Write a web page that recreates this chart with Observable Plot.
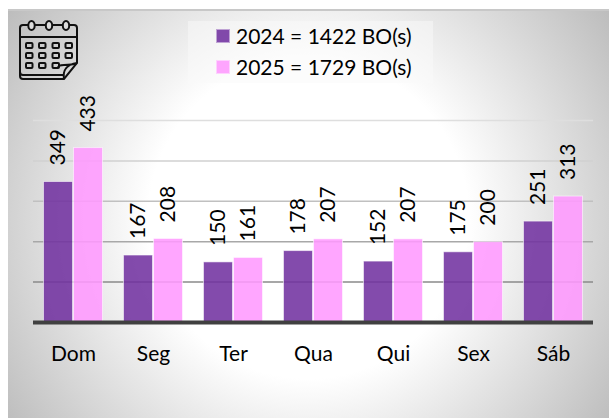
<!DOCTYPE html>
<html><head><meta charset="utf-8">
<script src="https://cdn.jsdelivr.net/npm/d3@7"></script>
<script src="https://cdn.jsdelivr.net/npm/@observablehq/plot@0.6"></script>
<style>
html,body{margin:0;padding:0;background:#fff;width:609px;height:418px;overflow:hidden}
#panel{position:absolute;left:8px;top:9px;width:601px;height:409px;box-sizing:border-box;border-top:2px solid #c8c8c8;
background:radial-gradient(circle 364px at 50% 51%,#fff 44%,#bdbdbd 100%)}
#chart{position:absolute;left:0;top:0}
#legend{position:absolute;left:188px;top:21px;width:245px;height:62px;background:rgba(250,250,250,.5);font:21px Lato,sans-serif;color:#000}
#legend div{position:absolute;left:28px;white-space:nowrap;display:flex;align-items:center;height:30px;line-height:30px}
#legend i{display:inline-block;width:14px;height:14px;margin-right:6px;box-sizing:border-box;border:1px solid rgba(255,255,255,.5)}
#icon{position:absolute;left:19px;top:20px}
</style></head><body>
<div id="panel"></div><div id="chart"></div>
<div id="legend"></div>
<svg id="icon" width="60" height="62" viewBox="0 0 60 62" fill="none" stroke="#111" stroke-width="2">
<path d="M1 43V8a3 3 0 0 1 3-3h51a3 3 0 0 1 3 3v35l-13 16H4a3 3 0 0 1-3-3z"/>
<path d="M1 17H58M1 52a3 3 0 0 0 3 3h41"/>
<path d="M45 59c-1-7 0-14 13-16-5 2-9 2-13 2-3 0-6 0-6 3"/>
<g fill="#ddd"><ellipse cx="12.500" cy="5.500" rx="3.200" ry="4.500"/><ellipse cx="30" cy="5.500" rx="3.200" ry="4.500"/><ellipse cx="47" cy="5.500" rx="3.200" ry="4.500"/></g>
<g stroke-width="2"><rect x="7" y="23" width="6.500" height="5" rx="1"/><rect x="20" y="23" width="6.500" height="5" rx="1"/><rect x="33.500" y="23" width="6.500" height="5" rx="1"/><rect x="46.500" y="23" width="6.500" height="5" rx="1"/>
<rect x="7" y="33" width="6.500" height="5" rx="1"/><rect x="20" y="33" width="6.500" height="5" rx="1"/><rect x="33.500" y="33" width="6.500" height="5" rx="1"/><rect x="46.500" y="33" width="6.500" height="5" rx="1"/>
<rect x="7" y="43" width="6.500" height="5" rx="1"/><rect x="20" y="43" width="6.500" height="5" rx="1"/><rect x="33.500" y="43" width="6.500" height="5" rx="1"/></g>
</svg>
<script>
const days = ["Dom","Seg","Ter","Qua","Qui","Sex","Sáb"];
const values2024 = [349,167,150,178,152,175,251];
const values2025 = [433,208,161,207,207,200,313];
const years = ["2024","2025"];
const legendLabels = ["2024 = 1422 BO(s)","2025 = 1729 BO(s)"];
const colors = ["#7030a0","#ff99ff"];
const gridValues = [100,200,300,400,500];
const gridColors = ["#8a8a8a","#a8a8a8","#c0c0c0","#d0d0d0","#dedede"];

const rows = days.flatMap((d,i)=>[
  {day:d,year:years[0],value:values2024[i]},
  {day:d,year:years[1],value:values2025[i]}
]);

const plot = Plot.plot({
  width:609,height:418,
  marginTop:120,marginBottom:96,marginLeft:33,marginRight:16,
  style:{background:"transparent",fontFamily:"Lato,sans-serif",overflow:"visible",color:"#000"},
  x:{domain:years,paddingInner:0,paddingOuter:0.333,axis:null},
  y:{domain:[0,500],axis:null},
  fx:{domain:days,padding:0},
  color:{domain:years,range:colors},
  marks:[
    Plot.ruleY(gridValues,{stroke:(d,i)=>gridColors[i],strokeWidth:1.5}),
    Plot.barY(rows,{fx:"day",x:"year",y:"value",fill:"year",fillOpacity:.87,stroke:"#fff",strokeOpacity:.55,strokeWidth:1,inset:0.5}),
    Plot.ruleY([0],{stroke:"#404040",strokeWidth:3.8}),
    Plot.text(rows,{fx:"day",x:"year",y:"value",text:"value",rotate:-90,textAnchor:"start",dy:-16,fontSize:21,fill:"#000"}),
    Plot.axisFx({anchor:"bottom",tickSize:0,tickPadding:24,label:null,fontSize:21,fill:"#000"})
  ]
});
document.getElementById("chart").append(plot);
const lg=document.getElementById("legend");
legendLabels.forEach((t,i)=>{const d=document.createElement("div");d.style.top=(i?31:0)+"px";
 d.innerHTML=`<i style="background:${colors[i]};opacity:.87"></i>${t}`;lg.append(d);});
</script>
</body></html>
